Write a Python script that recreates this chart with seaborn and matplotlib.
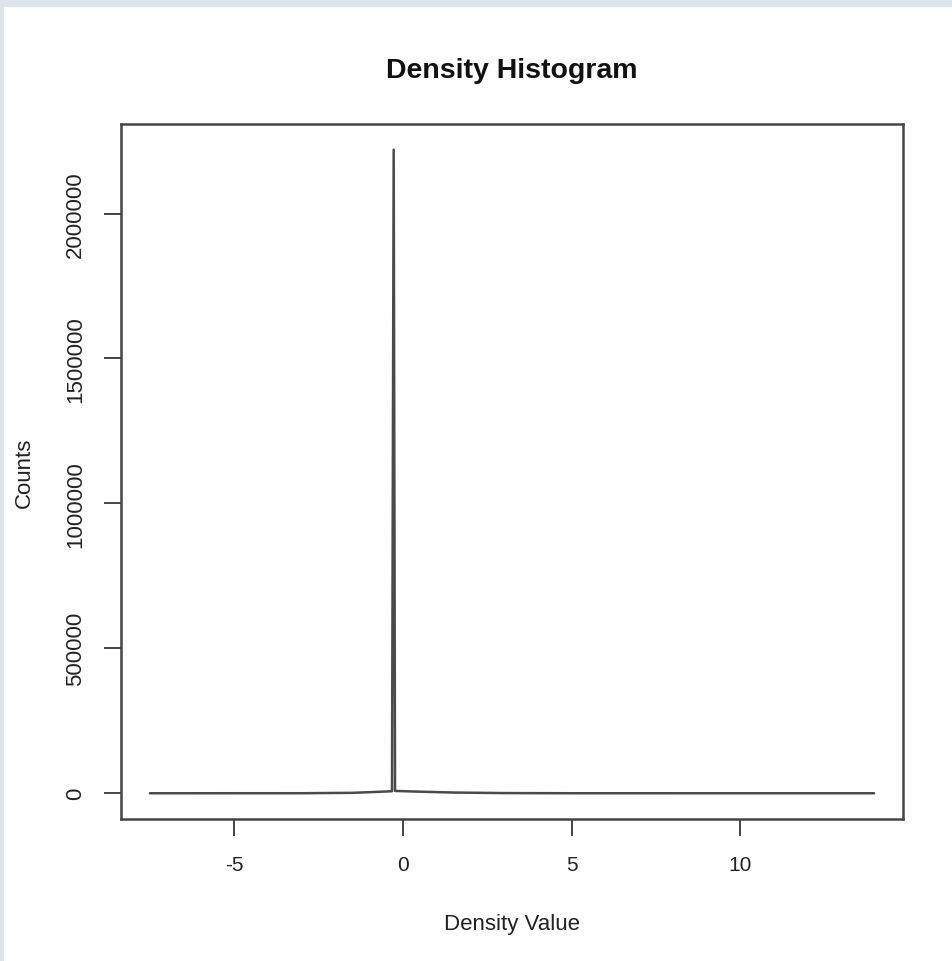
import numpy as np
import pandas as pd
import seaborn as sns
import matplotlib.pyplot as plt
from matplotlib.patches import Rectangle

# values (frequency polygon of density values)
density_value = [-7.49, -3.0, -1.5, -0.8, -0.32, -0.27, -0.23, 0.5, 1.5, 3.0, 5.0, 13.96]
counts = [0, 100, 1500, 4500, 7000, 2220000, 8000, 5500, 2500, 600, 50, 0]

x_ticks = [-5, 0, 5, 10]
y_ticks = [0, 500000, 1000000, 1500000, 2000000]

sns.set_style("white")
plt.rcParams['font.family'] = ['Liberation Sans', 'DejaVu Sans']

df = pd.DataFrame({'density': density_value, 'counts': counts})

fig = plt.figure(figsize=(9.52, 9.62), dpi=100)
ax = fig.add_axes([121 / 952, 1 - 820 / 962, (903 - 121) / 952, (820 - 125) / 962])

sns.lineplot(data=df, x='density', y='counts', ax=ax, color='#4a4a4a', linewidth=1.8)

# R-style 4% padding
xr = max(density_value) - min(density_value)
yr = max(counts) - min(counts)
ax.set_xlim(min(density_value) - 0.04 * xr, max(density_value) + 0.04 * xr)
ax.set_ylim(min(counts) - 0.04 * yr, max(counts) + 0.04 * yr)

ax.set_xticks(x_ticks)
ax.set_xticklabels([str(v) for v in x_ticks])
ax.set_yticks(y_ticks)
ax.set_yticklabels([str(v) for v in y_ticks], rotation=90, va='center')
ax.tick_params(axis='both', direction='out', length=12, width=1.4, color='#444444',
               labelsize=15, labelcolor='#222222', pad=14, bottom=True, left=True)
ax.tick_params(axis='y', labelsize=16, pad=13)

for s in ax.spines.values():
    s.set_visible(True)
    s.set_color('#444444')
    s.set_linewidth(1.8)

ax.set_xlabel('Density Value', fontsize=16, color='#222222', labelpad=28)
ax.set_ylabel('Counts', fontsize=16, color='#222222', labelpad=22)
ax.set_title('Density Histogram', fontsize=20.5, fontweight='bold', color='#111111', pad=34)

# light frame strips of the screenshot
fig.patches.append(Rectangle((0, 1 - 7 / 962), 1, 7 / 962, transform=fig.transFigure,
                             color='#dde3ea', zorder=0))
fig.patches.append(Rectangle((0, 0), 3 / 952, 1, transform=fig.transFigure,
                             color='#dde3ea', zorder=0))

fig.savefig('out.png', dpi=100, facecolor='white')
